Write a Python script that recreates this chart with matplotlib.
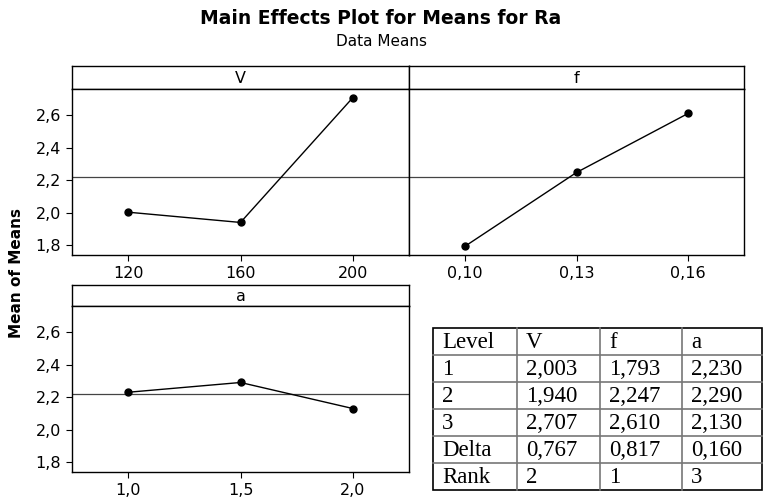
import matplotlib.pyplot as plt
from matplotlib.patches import Rectangle

factors = ['V', 'f', 'a']
level_labels = {
    'V': ['120', '160', '200'],
    'f': ['0,10', '0,13', '0,16'],
    'a': ['1,0', '1,5', '2,0'],
}
means_V = [2.003, 1.940, 2.707]
means_f = [1.793, 2.247, 2.610]
means_a = [2.230, 2.290, 2.130]
delta = ['0,767', '0,817', '0,160']
rank = ['2', '1', '3']
ytick_vals = [1.8, 2.0, 2.2, 2.4, 2.6]

means = {'V': means_V, 'f': means_f, 'a': means_a}
grand_mean = sum(means_V) / 3

W, H = 763, 501
fig = plt.figure(figsize=(W / 100, H / 100), dpi=100)


def px_axes(x0, y0, x1, y1):
    # pixel box (top-left origin) -> figure axes
    return fig.add_axes([x0 / W, 1 - y1 / H, (x1 - x0) / W, (y1 - y0) / H])


fig.text(381 / W, 1 - 18 / H, 'Main Effects Plot for Means for Ra',
         ha='center', va='center', fontsize=13.5, fontweight='bold')
fig.text(381 / W, 1 - 42 / H, 'Data Means', ha='center', va='center', fontsize=11)
fig.text(17 / W, 1 - 273 / H, 'Mean of Means', rotation=90, ha='center',
         va='center', fontsize=11, fontweight='bold')

boxes = {
    'V': (72, 66, 409, 89, 255),
    'f': (409, 66, 744, 89, 255),
    'a': (72, 285, 409, 306, 472),
}

for name in factors:
    x0, ys, x1, yt, yb = boxes[name]
    strip = px_axes(x0, ys, x1, yt)
    strip.set_xticks([])
    strip.set_yticks([])
    strip.text(0.5, 0.45, name, ha='center', va='center', fontsize=11.5,
               transform=strip.transAxes)
    for s in strip.spines.values():
        s.set_linewidth(1.0)

    ax = px_axes(x0, yt, x1, yb)
    pos = range(len(means[name]))
    ax.plot(pos, means[name], color='black', lw=1.0, marker='o', ms=5)
    ax.axhline(grand_mean, color='#444444', lw=0.9, zorder=0)
    ax.set_xlim(-0.5, 2.5)
    ax.set_ylim(1.74, 2.76)
    ax.set_xticks(list(pos))
    ax.set_xticklabels(level_labels[name], fontsize=11.5)
    ax.set_yticks(ytick_vals)
    if name == 'f':
        ax.tick_params(axis='y', left=False, labelleft=False)
    else:
        ax.set_yticklabels([f'{v:.1f}'.replace('.', ',') for v in ytick_vals],
                           fontsize=11.5)
    ax.tick_params(length=4, width=0.8, pad=4)
    for s in ax.spines.values():
        s.set_linewidth(1.0)

# response table
header = ['Level', 'V', 'f', 'a']
rows = [header]
for i in range(3):
    rows.append([str(i + 1)] + [f'{means[n][i]:.3f}'.replace('.', ',') for n in factors])
rows.append(['Delta'] + delta)
rows.append(['Rank'] + rank)

tx0, ty0, tx1, ty1 = 433, 328, 762, 490
col_edges = [433, 517, 600, 682, 762]
tab = fig.add_axes([0, 0, 1, 1], zorder=-1)
tab.set_xlim(0, W)
tab.set_ylim(H, 0)
tab.axis('off')
row_h = (ty1 - ty0) / len(rows)
for r, row in enumerate(rows):
    yc = ty0 + (r + 0.5) * row_h
    for c, txt in enumerate(row):
        tab.text(col_edges[c] + 9, yc + 1, txt, ha='left', va='center',
                 fontsize=16.5, family='Liberation Serif')
for r in range(1, len(rows)):
    tab.plot([tx0, tx1], [ty0 + r * row_h] * 2, color='#777777', lw=1.2)
for c in col_edges[1:-1]:
    tab.plot([c, c], [ty0, ty1], color='#777777', lw=1.2)
tab.add_patch(Rectangle((tx0, ty0), tx1 - tx0, ty1 - ty0, fill=False,
                        edgecolor='black', lw=1.2))

fig.savefig('out.png', dpi=100)
